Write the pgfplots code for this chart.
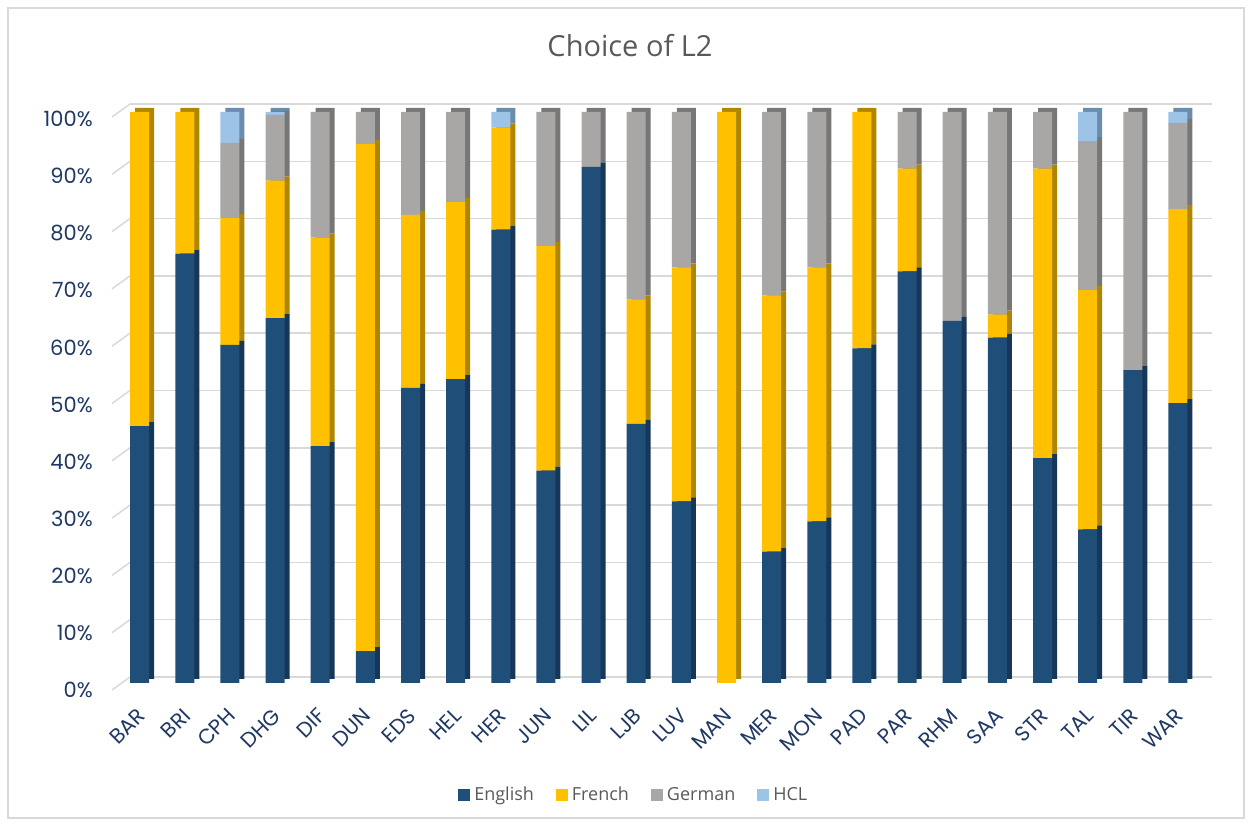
\documentclass[border=0pt]{standalone}
\usepackage{pgfplots}
\pgfplotsset{compat=1.18}
\usepackage{pgfplotstable}
\usepackage{fontspec}
\setmainfont{Open Sans}
\newfontfamily\tickfont{Poppins}
\definecolor{cEn}{HTML}{1F4E79}
\definecolor{cEnS}{HTML}{16375A}
\definecolor{cFr}{HTML}{FFC000}
\definecolor{cFrS}{HTML}{B08600}
\definecolor{cDe}{HTML}{A9A6A6}
\definecolor{cDeS}{HTML}{777777}
\definecolor{cHc}{HTML}{9DC3E6}
\definecolor{cHcS}{HTML}{6B8CAB}
\definecolor{navy}{HTML}{1F3864}
\definecolor{txtgray}{HTML}{595959}
\definecolor{gridc}{HTML}{D9D9D9}

\pgfplotstableread{
idx En Fr De Hc
0 45.0 55.0 0 0
1 75.2 24.8 0 0
2 59.2 22.2 13.2 5.4
3 63.9 24.1 11.5 0.5
4 41.5 36.5 22.0 0
5 5.6 88.8 5.6 0
6 51.7 30.3 18.0 0
7 53.2 31.0 15.8 0
8 79.4 17.9 0 2.7
9 37.2 39.3 23.5 0
10 90.4 0 9.6 0
11 45.4 21.8 32.8 0
12 31.8 41.0 27.2 0
13 0 100 0 0
14 23.0 44.9 32.1 0
15 28.3 44.5 27.2 0
16 58.6 41.4 0 0
17 72.1 18.0 9.9 0
18 63.4 0 36.6 0
19 60.5 4.0 35.5 0
20 39.4 50.7 9.9 0
21 26.9 41.9 26.1 5.1
22 54.8 0 45.2 0
23 49.0 34.0 15.1 1.9
}\datatable

\pgfplotsset{
  base/.style={
    scale only axis, width=541.7pt, height=285.5pt,
    xmin=-0.5, xmax=23.5, ymin=0, ymax=100,
    ybar stacked, bar width=9.5pt,
    axis line style={draw=none}, major tick length=0pt,
    clip=false,
  },
}

\begin{document}
\begin{tikzpicture}
\useasboundingbox (0,0) rectangle (625pt,412pt);
\draw[gridc, line width=1pt] (4pt,3pt) rectangle (622pt,408pt);
\node[text=txtgray, font=\fontsize{14.5pt}{14.5pt}\selectfont] at (315pt,389pt) {Choice of L2};

% back wall grid
\begin{axis}[scale only axis, at={(65pt,73.5pt)}, anchor=south west,
  width=541pt, height=286.5pt, xmin=0, xmax=1, ymin=0, ymax=100,
  axis line style={draw=none}, major tick length=0pt,
  xtick=\empty, ytick={0,10,20,30,40,50,60,70,80,90,100}, yticklabels={},
  ymajorgrids, grid style={gridc, line width=0.75pt}, clip=false]
\pgfplotsinvokeforeach{0,10,20,30,40,50,60,70,80,90,100}{
  \draw[gridc, line width=0.75pt] (axis cs:0,#1) -- ++(-9pt,-6.5pt);
}
\end{axis}

% side faces
\begin{axis}[base, hide axis, at={(61.05pt,72.5pt)}, anchor=south west]
\addplot[fill=cEnS, draw=none] table[x=idx, y=En] {\datatable};
\addplot[fill=cFrS, draw=none] table[x=idx, y=Fr] {\datatable};
\addplot[fill=cDeS, draw=none] table[x=idx, y=De] {\datatable};
\addplot[fill=cHcS, draw=none] table[x=idx, y=Hc] {\datatable};
\end{axis}

% front faces
\begin{axis}[base, at={(58.55pt,70.5pt)}, anchor=south west,
  xtick={0,...,23},
  xticklabels={BAR,BRI,CPH,DHG,DIF,DUN,EDS,HEL,HER,JUN,LIL,LJB,LUV,MAN,MER,MON,PAD,PAR,RHM,SAA,STR,TAL,TIR,WAR},
  xticklabel style={font=\tickfont\fontsize{10.5pt}{10.5pt}\selectfont, text=navy, inner sep=0pt, xshift=1pt, yshift=-14.5pt, rotate=45, anchor=east},
  ytick={0,10,20,30,40,50,60,70,80,90,100},
  yticklabels={0\%,10\%,20\%,30\%,40\%,50\%,60\%,70\%,80\%,90\%,100\%},
  yticklabel style={font=\tickfont\fontsize{10.5pt}{10.5pt}\selectfont, text=navy, anchor=east, inner sep=0pt, xshift=-12pt, yshift=-3.5pt},
  legend columns=4,
  legend style={at={(0.5,0)}, anchor=center, xshift=-12pt, yshift=-56pt, draw=none, fill=none,
    font=\fontsize{9pt}{9pt}\selectfont, text=txtgray,
    /tikz/every even column/.append style={column sep=9pt}},
  legend image code/.code={\fill[#1] (0pt,-3pt) rectangle (6pt,3pt);},
]
\addplot[fill=cEn, draw=none] table[x=idx, y=En] {\datatable};
\addplot[fill=cFr, draw=none] table[x=idx, y=Fr] {\datatable};
\addplot[fill=cDe, draw=none] table[x=idx, y=De] {\datatable};
\addplot[fill=cHc, draw=none] table[x=idx, y=Hc] {\datatable};
\legend{English,French,German,HCL}
\end{axis}
\end{tikzpicture}
\end{document}
